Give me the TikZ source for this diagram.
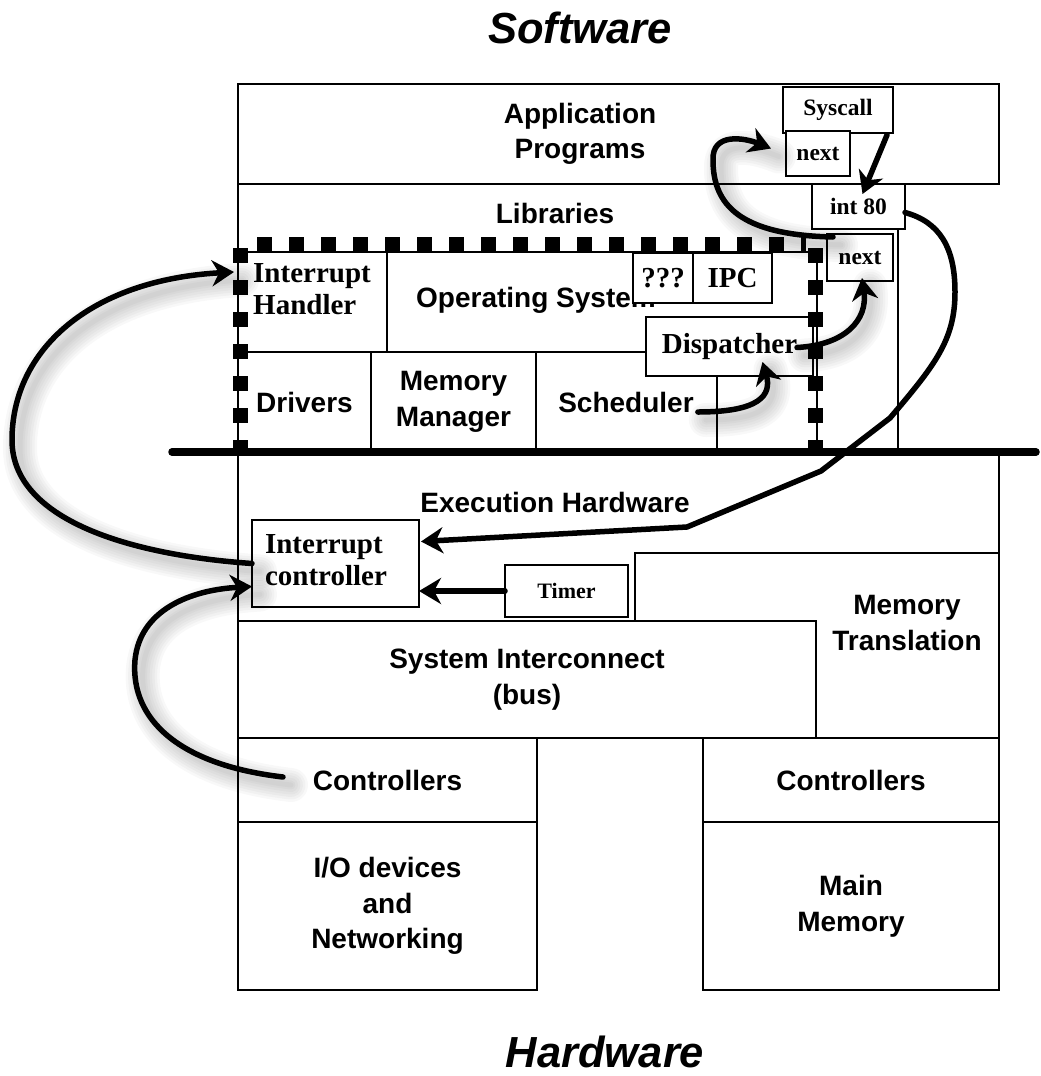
\documentclass[tikz,border=0pt]{standalone}
\usepackage{fontspec}
\setmainfont{Liberation Serif}
\setsansfont{Liberation Sans}
\usetikzlibrary{arrows.meta,calc,fit}
\begin{document}
\begin{tikzpicture}[x=1pt,y=-1pt,
  box/.style={draw, line width=2pt, rectangle, inner sep=0pt, outer sep=0pt},
  wbox/.style={box, fill=white},
  sans/.style={font=\sffamily\bfseries\fontsize{28}{35.5}\selectfont, align=center, inner sep=0pt},
  serif/.style={font=\rmfamily\bfseries\fontsize{29}{32}\selectfont, align=center, inner sep=0pt},
  small/.style={font=\rmfamily\bfseries\fontsize{23.5}{28}\selectfont, inner sep=0pt},
  headline/.style={font=\sffamily\bfseries\itshape\fontsize{43.5}{50}\selectfont, inner sep=0pt},
  osdash/.style={line width=15pt, dash pattern=on 15pt off 17pt},
  halo/.style={preaction={draw=black, draw opacity=0.028, line width=#1, arrows=-, line cap=round, line join=round, transform canvas={shift={(8,8)}}}},
  glow/.style={halo=34pt, halo=29pt, halo=24pt, halo=19pt, halo=14pt, halo=9pt, halo=5pt},
  flow/.style={line width=5.5pt, line cap=round, line join=round, -{Stealth[length=22pt,width=26pt,inset=7pt]}}
]
\useasboundingbox (0,0) rectangle (1041,1076);

% headings
\node[headline] (sw) at (580,28) {Software};
\node[headline] (hw) at (605,1052) {Hardware};

% software layers
\node[box, fit={(238,84)(999,184)}] (app) {};
\node[sans] (apptxt) at (580,134) {Application\\Programs};
\node[box, fit={(238,184)(898,452)}] (lib) {};
\node[sans] (libtxt) at (555,213) {Libraries};
\node[box, fit={(238,452)(999,738)}] (exe) {};
\node[sans] (exetxt) at (555,502) {Execution Hardware};

% operating system blocks
\node[box, fit={(238,252)(387,352)}] (ih) {};
\node[serif, align=left] (ihtxt) at (312,289.5) {Interrupt\\Handler};
\node[box, fit={(387,252)(817,352)}] (os) {};
\node[sans] (ostxt) at (536,300) {Operating System};
\node[box, fit={(238,352)(371,452)}] (drv) {};
\node[sans] (drvtxt) at (drv.center) {Drivers};
\node[box, fit={(371,352)(536,452)}] (mm) {};
\node[sans] (mmtxt) at (mm.center) {Memory\\Manager};
\node[box, fit={(536,352)(717,452)}] (sch) {};
\node[sans] (schtxt) at (626,402) {Scheduler};
\node[box, fit={(717,352)(817,452)}] (osx) {};
\node[wbox, fit={(633,253)(693,303)}] (qqq) {};
\node[serif] (qqqtxt) at (qqq.center) {???};
\node[wbox, fit={(693,253)(772,303)}] (ipc) {};
\node[serif] (ipctxt) at (ipc.center) {IPC};
\node[wbox, fit={(646,317)(813,376)}] (disp) {};
\node[serif] (disptxt) at (disp.center) {Dispatcher};

% kernel boundary
\draw[osdash] (257,244.5) -- (806,244.5);
\draw[osdash] (240,248) -- (240,452);
\draw[osdash] (815,248) -- (815,452);

% system call path
\node[wbox, fit={(783,87)(893,133)}] (syscall) {};
\node[small] (syscalltxt) at (syscall.center) {Syscall};
\node[wbox, fit={(786,131)(850,176)}] (next1) {};
\node[small] (next1txt) at (next1.center) {next};
\node[wbox, fit={(812,184)(905,229)}] (int80) {};
\node[small] (int80txt) at (int80.center) {int 80};
\node[wbox, fit={(827,234)(893,281)}] (next2) {};
\node[small] (next2txt) at (next2.center) {next};

% hardware
\node[box, fit={(635,553)(999,738)}] (mt) {};
\node[sans] (mttxt) at (907,623) {Memory\\Translation};
\node[wbox, fit={(238,621)(816,738)}] (sic) {};
\node[sans] (sictxt) at (sic.center) {System Interconnect\\(bus)};
\node[box, fit={(505,565)(628,617)}] (timer) {};
\node[small, font=\rmfamily\bfseries\fontsize{22}{26}\selectfont] (timertxt) at (timer.center) {Timer};
\node[box, fit={(252,520)(419,607)}] (ic) {};
\node[serif, align=left] (ictxt) at (326,560) {Interrupt\\controller};

\node[box, fit={(238,738)(537,822)}] (ctrlL) {};
\node[sans] (ctrlLtxt) at (ctrlL.center) {Controllers};
\node[box, fit={(238,822)(537,990)}] (io) {};
\node[sans] (iotxt) at (io.center) {I/O devices\\and\\Networking};
\node[box, fit={(703,738)(999,822)}] (ctrlR) {};
\node[sans] (ctrlRtxt) at (ctrlR.center) {Controllers};
\node[box, fit={(703,822)(999,990)}] (mainmem) {};
\node[sans] (mainmemtxt) at (mainmem.center) {Main\\Memory};

% software / hardware boundary
\draw[line width=7.5pt, line cap=round] (172,452) -- (1036,452);

% control flow
\draw[flow, glow] (ic.west) .. controls (130,555) and (12,520) .. (12,440)
  .. controls (12,350) and (90,280) .. ($(ih.north west)+(-4,20)$);
\draw[flow, glow] ($(ctrlL.west)+(45,-3)$) .. controls (180,765) and (130,720) .. (135,660)
  .. controls (140,610) and (190,590) .. ($(ic.west)+(0,23)$);
\draw[flow] (timer.west) -- (timer.west -| ic.east);
\draw[flow] ($(int80.east)+(0,6)$) .. controls (940,222) and (955,248) .. (955,292)
  .. controls (955,340) and (935,365) .. (890,418) -- (821,471) -- (687,527)
  -- ($(ic.east)+(2,-22)$);
\draw[flow] ($(syscall.south east)+(-6,2)$) -- ($(int80.north)+(4,10)$);
\draw[flow, glow] ($(next2.north west)+(6,3)$) .. controls (740,235) and (713,205) .. (713,160)
  .. controls (712,132) and (745,138) .. ($(next1.west)+(-15,-5)$);
\draw[flow, glow] ($(schtxt.base east)+(4,0)$) .. controls (760,412) and (772,395) .. ($(disp.south)+(33,-14)$);
\draw[flow, glow] ($(disp.east)+(-16,1)$) .. controls (845,345) and (868,320) .. ($(next2.south)+(2,-3)$);
\end{tikzpicture}
\end{document}
